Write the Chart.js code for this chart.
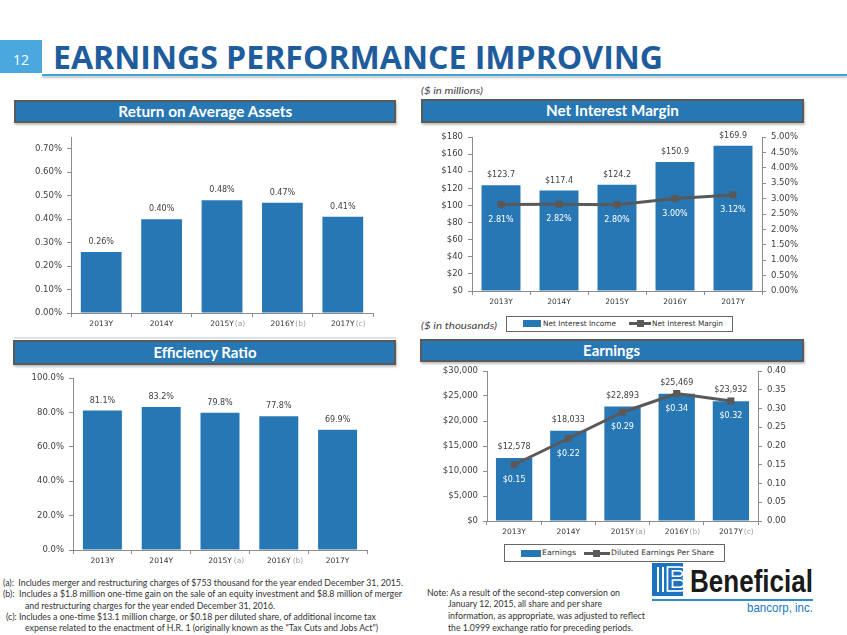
<!DOCTYPE html>
<html>
<head>
<meta charset="utf-8">
<script src="https://cdn.jsdelivr.net/npm/chart.js@4"></script>
<style>
  html, body { margin: 0; padding: 0; background: #fff; }
  body { width: 847px; height: 635px; position: relative; overflow: hidden; font-family: Lato, "Open Sans", sans-serif; }
  .abs { position: absolute; }
  .fit { display: inline-block; white-space: nowrap; transform-origin: left center; }
  .bar-title { position: absolute; box-sizing: border-box; background: #2877b5; border: 2px solid #5a5a5a;
               box-shadow: 1px 2px 2px rgba(0,0,0,0.25); color: #fff; text-align: center; font-weight: 700; font-size: 14.5px; }
  .bar-title .fit { transform-origin: center center; }
  .note { position: absolute; font-size: 9px; color: #333; white-space: nowrap; line-height: 11px; }
  .legend { position: absolute; box-sizing: border-box; border: 1px solid #666; background: #fff; }
  .legend .fit { position: absolute; font-family: "DejaVu Sans"; font-size: 7.5px; color: #333; }
  canvas { position: absolute; }
</style>
</head>
<body>
<!-- header -->
<div class="abs" style="left:0;top:40px;width:42px;height:33px;background:#4ba8de;color:#fff;font-family:'Open Sans';font-size:14px;line-height:33px;text-align:center;padding-top:3px;box-sizing:border-box;">12</div>
<div class="abs" style="left:53px;top:41px;font-family:'Open Sans';font-weight:700;font-size:32px;line-height:32px;color:#1f5c9e;"><span class="fit" data-w="610">EARNINGS PERFORMANCE IMPROVING</span></div>
<div class="abs" style="left:42px;top:74px;width:805px;height:2px;background:#3da5dc;box-shadow:0 2px 2px rgba(0,0,0,0.25);"></div>

<div class="abs" style="left:421px;top:84px;font-style:italic;font-size:10px;color:#444;"><span class="fit" data-w="62">($ in millions)</span></div>
<div class="abs" style="left:421px;top:319px;font-style:italic;font-size:10px;color:#444;"><span class="fit" data-w="76">($ in thousands)</span></div>

<div class="bar-title" style="left:14px;top:100px;width:382px;height:23px;line-height:19px;"><span class="fit" data-w="174">Return on Average Assets</span></div>
<div class="bar-title" style="left:421px;top:99px;width:383px;height:24px;line-height:20px;"><span class="fit" data-w="133">Net Interest Margin</span></div>
<div class="bar-title" style="left:13px;top:340px;width:383px;height:25px;line-height:21px;"><span class="fit" data-w="103">Efficiency Ratio</span></div>
<div class="bar-title" style="left:420px;top:339px;width:384px;height:23px;line-height:19px;"><span class="fit" data-w="57">Earnings</span></div>

<div class="abs" style="left:14px;top:337px;width:382px;height:2px;background:#e2e2e2;"></div>

<canvas id="roaChart" width="400" height="215" style="left:0;top:130px;"></canvas>
<canvas id="nimChart" width="437" height="180" style="left:410px;top:130px;"></canvas>
<canvas id="effChart" width="400" height="200" style="left:0;top:370px;"></canvas>
<canvas id="earnChart" width="437" height="180" style="left:410px;top:362px;"></canvas>

<!-- legends -->
<div class="legend" style="left:506px;top:316px;width:227px;height:16px;">
  <div class="abs" style="left:16px;top:3px;width:18px;height:7px;background:#2877b5;"></div>
  <span class="fit" id="nimLeg0" data-w="73" style="left:36px;top:2px;"></span>
  <div class="abs" style="left:122px;top:5px;width:22px;height:3px;background:#595959;"></div>
  <div class="abs" style="left:130px;top:3px;width:7px;height:7px;background:#595959;"></div>
  <span class="fit" id="nimLeg1" data-w="71" style="left:145px;top:2px;"></span>
</div>
<div class="legend" style="left:504px;top:544px;width:221px;height:18px;">
  <div class="abs" style="left:16px;top:5px;width:20px;height:7px;background:#2877b5;"></div>
  <span class="fit" id="earnLeg0" data-w="34" style="left:37px;top:3px;"></span>
  <div class="abs" style="left:79px;top:7px;width:26px;height:3px;background:#595959;"></div>
  <div class="abs" style="left:88px;top:5px;width:7px;height:7px;background:#595959;"></div>
  <span class="fit" id="earnLeg1" data-w="103" style="left:106px;top:3px;"></span>
</div>

<!-- footnotes -->
<div class="note" style="left:3px;top:577px;"><span class="fit" data-w="400">(a): &nbsp;Includes merger and restructuring charges of $753 thousand for the year ended December 31, 2015.</span></div>
<div class="note" style="left:3px;top:588px;"><span class="fit" data-w="399">(b): &nbsp;Includes a $1.8 million one-time gain on the sale of an equity investment and $8.8 million of merger</span></div>
<div class="note" style="left:25px;top:600px;"><span class="fit" data-w="250">and restructuring charges for the year ended December 31, 2016.</span></div>
<div class="note" style="left:6px;top:611px;"><span class="fit" data-w="370">(c): Includes a one-time $13.1 million charge, or $0.18 per diluted share, of additional income tax</span></div>
<div class="note" style="left:25px;top:622px;"><span class="fit" data-w="353">expense related to the enactment of H.R. 1 (originally known as the "Tax Cuts and Jobs Act")</span></div>

<div class="note" style="left:427px;top:587px;"><span class="fit" data-w="193">Note: As a result of the second-step conversion on</span></div>
<div class="note" style="left:448px;top:598px;"><span class="fit" data-w="154">January 12, 2015, all share and per share</span></div>
<div class="note" style="left:448px;top:610px;"><span class="fit" data-w="197">information, as appropriate, was adjusted to reflect</span></div>
<div class="note" style="left:448px;top:622px;"><span class="fit" data-w="185">the 1.0999 exchange ratio for preceding periods.</span></div>

<!-- logo -->
<div class="abs" style="left:652px;top:563px;width:31px;height:33px;background:#1e73be;overflow:hidden;">
  <div class="abs" style="left:5px;top:4px;width:2px;height:25px;background:#fff;"></div>
  <div class="abs" style="left:10px;top:4px;width:2px;height:25px;background:#fff;"></div>
  <div class="abs" style="left:13px;top:-4px;font-family:'Liberation Sans';font-weight:700;font-size:35px;color:#1e73be;-webkit-text-stroke:1.5px #fff;">B</div>
</div>
<div class="abs" style="left:690px;top:563px;font-family:'Liberation Sans';font-weight:700;font-size:32px;line-height:36px;color:#1a1a1a;"><span class="fit" data-w="123">Beneficial</span></div>
<div class="abs" style="left:652px;top:599px;width:161px;height:2px;background:#2d8ad0;"></div>
<div class="abs" style="left:747px;top:601px;font-family:'Liberation Sans';font-size:13px;line-height:14px;color:#2277c5;"><span class="fit" data-w="66">bancorp, inc.</span></div>

<script>
// ---- data ----
const years = ['2013Y', '2014Y', '2015Y', '2016Y', '2017Y'];
const roaNotes = ['', '', '(a)', '(b)', '(c)'];
const effNotes = ['', '', '(a)', '(b)', ''];
const earnNotes = ['', '', '(a)', '(b)', '(c)'];

const returnOnAvgAssets = [0.26, 0.40, 0.48, 0.47, 0.41];
const netInterestIncome = [123.7, 117.4, 124.2, 150.9, 169.9];
const netInterestMargin = [2.81, 2.82, 2.80, 3.00, 3.12];
const efficiencyRatio = [81.1, 83.2, 79.8, 77.8, 69.9];
const earnings = [12578, 18033, 22893, 25469, 23932];
const dilutedEps = [0.15, 0.22, 0.29, 0.34, 0.32];

const nimSeries = ['Net Interest Income', 'Net Interest Margin'];
const earnSeries = ['Earnings', 'Diluted Earnings Per Share'];

// ---- styling ----
const BLUE = '#2877b5';
const LINE = '#595959';
const AXIS = '#8c8c8c';
const TEXT = '#404040';
const tickFont = { family: 'DejaVu Sans', size: 8.5 };
const labelFont = '8px "DejaVu Sans"';

document.getElementById('nimLeg0').textContent = nimSeries[0];
document.getElementById('nimLeg1').textContent = nimSeries[1];
document.getElementById('earnLeg0').textContent = earnSeries[0];
document.getElementById('earnLeg1').textContent = earnSeries[1];

// value labels on bars / points
const valueLabels = {
    id: 'valueLabels',
    afterDatasetsDraw(chart, args, opts) {
        const ctx = chart.ctx;
        (opts.items || []).forEach(item => {
            const meta = chart.getDatasetMeta(item.dataset);
            const data = chart.data.datasets[item.dataset].data;
            ctx.save();
            ctx.font = labelFont;
            ctx.fillStyle = item.color;
            ctx.textAlign = 'center';
            ctx.textBaseline = 'middle';
            meta.data.forEach((el, i) => {
                ctx.fillText(item.format(data[i]), el.x, el.y + item.dy);
            });
            ctx.restore();
        });
    }
};

// gray "(a)" style notes after the year labels
const noteSuffix = {
    id: 'noteSuffix',
    afterDraw(chart, args, opts) {
        if (!opts.notes) return;
        const sx = chart.scales.x;
        const ctx = chart.ctx;
        ctx.save();
        ctx.font = '7.5px "DejaVu Sans"';
        ctx.fillStyle = '#a0a0a0';
        ctx.textAlign = 'left';
        ctx.textBaseline = 'top';
        opts.notes.forEach((note, i) => {
            if (!note) return;
            const w = ctx.measureText(chart.data.labels[i]).width;
            ctx.fillText(note, sx.getPixelForTick(i) + w / 2 + (opts.gap || 1), sx.top + 4 + 3);
        });
        ctx.restore();
    }
};

Chart.register(valueLabels, noteSuffix);

function fixWidth(w) {
    return s => { s.width = w; s.paddingTop = 0; s.paddingBottom = 0; s.paddingLeft = 0; s.paddingRight = 0; };
}
function fixHeight(h) {
    return s => { s.height = h; s.paddingTop = 0; s.paddingBottom = 0; s.paddingLeft = 0; s.paddingRight = 0; };
}

function xAxis(h) {
    return {
        offset: true,
        grid: { offset: true, drawOnChartArea: false, tickLength: 4, color: AXIS },
        border: { color: AXIS },
        ticks: { padding: 3, color: '#333', font: { family: 'DejaVu Sans', size: 7.5 }, maxRotation: 0 },
        afterFit: fixHeight(h)
    };
}
function yAxis(w, min, max, step, fmt, pos) {
    return {
        position: pos || 'left',
        min: min, max: max, bounds: 'data',
        grid: { drawOnChartArea: false, tickLength: 4, color: AXIS },
        border: { color: AXIS },
        ticks: { stepSize: step, includeBounds: false, padding: 5, color: TEXT, font: tickFont, callback: fmt },
        afterFit: fixWidth(w)
    };
}
const common = { responsive: false, animation: false, events: [] };
const noLegend = { legend: { display: false }, tooltip: { enabled: false } };

// ---- Return on Average Assets ----
new Chart(document.getElementById('roaChart'), {
    type: 'bar',
    data: {
        labels: years,
        datasets: [{ data: returnOnAvgAssets, backgroundColor: BLUE, barPercentage: 0.675, categoryPercentage: 1 }]
    },
    options: Object.assign({}, common, {
        layout: { padding: { left: 0, top: 7, right: 27, bottom: 0 } },
        plugins: Object.assign({}, noLegend, {
            valueLabels: { items: [{ dataset: 0, dy: -10, color: TEXT, format: v => v.toFixed(2) + '%' }] },
            noteSuffix: { notes: roaNotes, gap: 1 }
        }),
        scales: {
            x: xAxis(32),
            y: yAxis(71, 0, 0.75, 0.1, v => v.toFixed(2) + '%')
        }
    })
});

// ---- Net Interest Margin ----
new Chart(document.getElementById('nimChart'), {
    type: 'bar',
    data: {
        labels: years,
        datasets: [
            { type: 'line', label: nimSeries[1], data: netInterestMargin, yAxisID: 'y1', order: 0,
              borderColor: LINE, borderWidth: 3, pointStyle: 'rect', pointRadius: 5,
              pointBackgroundColor: LINE, pointBorderColor: LINE, pointBorderWidth: 0 },
            { label: nimSeries[0], data: netInterestIncome, yAxisID: 'y', order: 1,
              backgroundColor: BLUE, barPercentage: 0.672, categoryPercentage: 1 }
        ]
    },
    options: Object.assign({}, common, {
        layout: { padding: { left: 0, top: 7, right: 0, bottom: 0 } },
        plugins: Object.assign({}, noLegend, {
            valueLabels: { items: [
                { dataset: 1, dy: -10, color: TEXT, format: v => '$' + v.toFixed(1) },
                { dataset: 0, dy: 15, color: '#fff', format: v => v.toFixed(2) + '%' }
            ] }
        }),
        scales: {
            x: xAxis(19),
            y: yAxis(62, 0, 180, 20, v => '$' + v),
            y1: yAxis(85, 0, 5, 0.5, v => v.toFixed(2) + '%', 'right')
        }
    })
});

// ---- Efficiency Ratio ----
new Chart(document.getElementById('effChart'), {
    type: 'bar',
    data: {
        labels: years,
        datasets: [{ data: efficiencyRatio, backgroundColor: BLUE, barPercentage: 0.663, categoryPercentage: 1 }]
    },
    options: Object.assign({}, common, {
        layout: { padding: { left: 0, top: 8, right: 33, bottom: 0 } },
        plugins: Object.assign({}, noLegend, {
            valueLabels: { items: [{ dataset: 0, dy: -10, color: TEXT, format: v => v.toFixed(1) + '%' }] },
            noteSuffix: { notes: effNotes, gap: 2 }
        }),
        scales: {
            x: xAxis(20),
            y: yAxis(73, 0, 100, 20, v => v.toFixed(1) + '%')
        }
    })
});

// ---- Earnings ----
new Chart(document.getElementById('earnChart'), {
    type: 'bar',
    data: {
        labels: years,
        datasets: [
            { type: 'line', label: earnSeries[1], data: dilutedEps, yAxisID: 'y1', order: 0,
              borderColor: LINE, borderWidth: 3, pointStyle: 'rect', pointRadius: 5,
              pointBackgroundColor: LINE, pointBorderColor: LINE, pointBorderWidth: 0 },
            { label: earnSeries[0], data: earnings, yAxisID: 'y', order: 1,
              backgroundColor: BLUE, barPercentage: 0.67, categoryPercentage: 1 }
        ]
    },
    options: Object.assign({}, common, {
        layout: { padding: { left: 0, top: 9, right: 0, bottom: 0 } },
        plugins: Object.assign({}, noLegend, {
            valueLabels: { items: [
                { dataset: 1, dy: -11, color: TEXT, format: v => '$' + v.toLocaleString('en-US') },
                { dataset: 0, dy: 15, color: '#fff', format: v => '$' + v.toFixed(2) }
            ] },
            noteSuffix: { notes: earnNotes, gap: 1 }
        }),
        scales: {
            x: xAxis(21),
            y: yAxis(77, 0, 30000, 5000, v => '$' + v.toLocaleString('en-US')),
            y1: yAxis(89, 0, 0.4, 0.05, v => v.toFixed(2), 'right')
        }
    })
});

// squeeze text to the widths seen in the slide
document.querySelectorAll('[data-w]').forEach(el => {
    const w = el.getBoundingClientRect().width;
    if (w > 0) el.style.transform = 'scaleX(' + (el.dataset.w / w) + ')';
});
</script>
</body>
</html>
